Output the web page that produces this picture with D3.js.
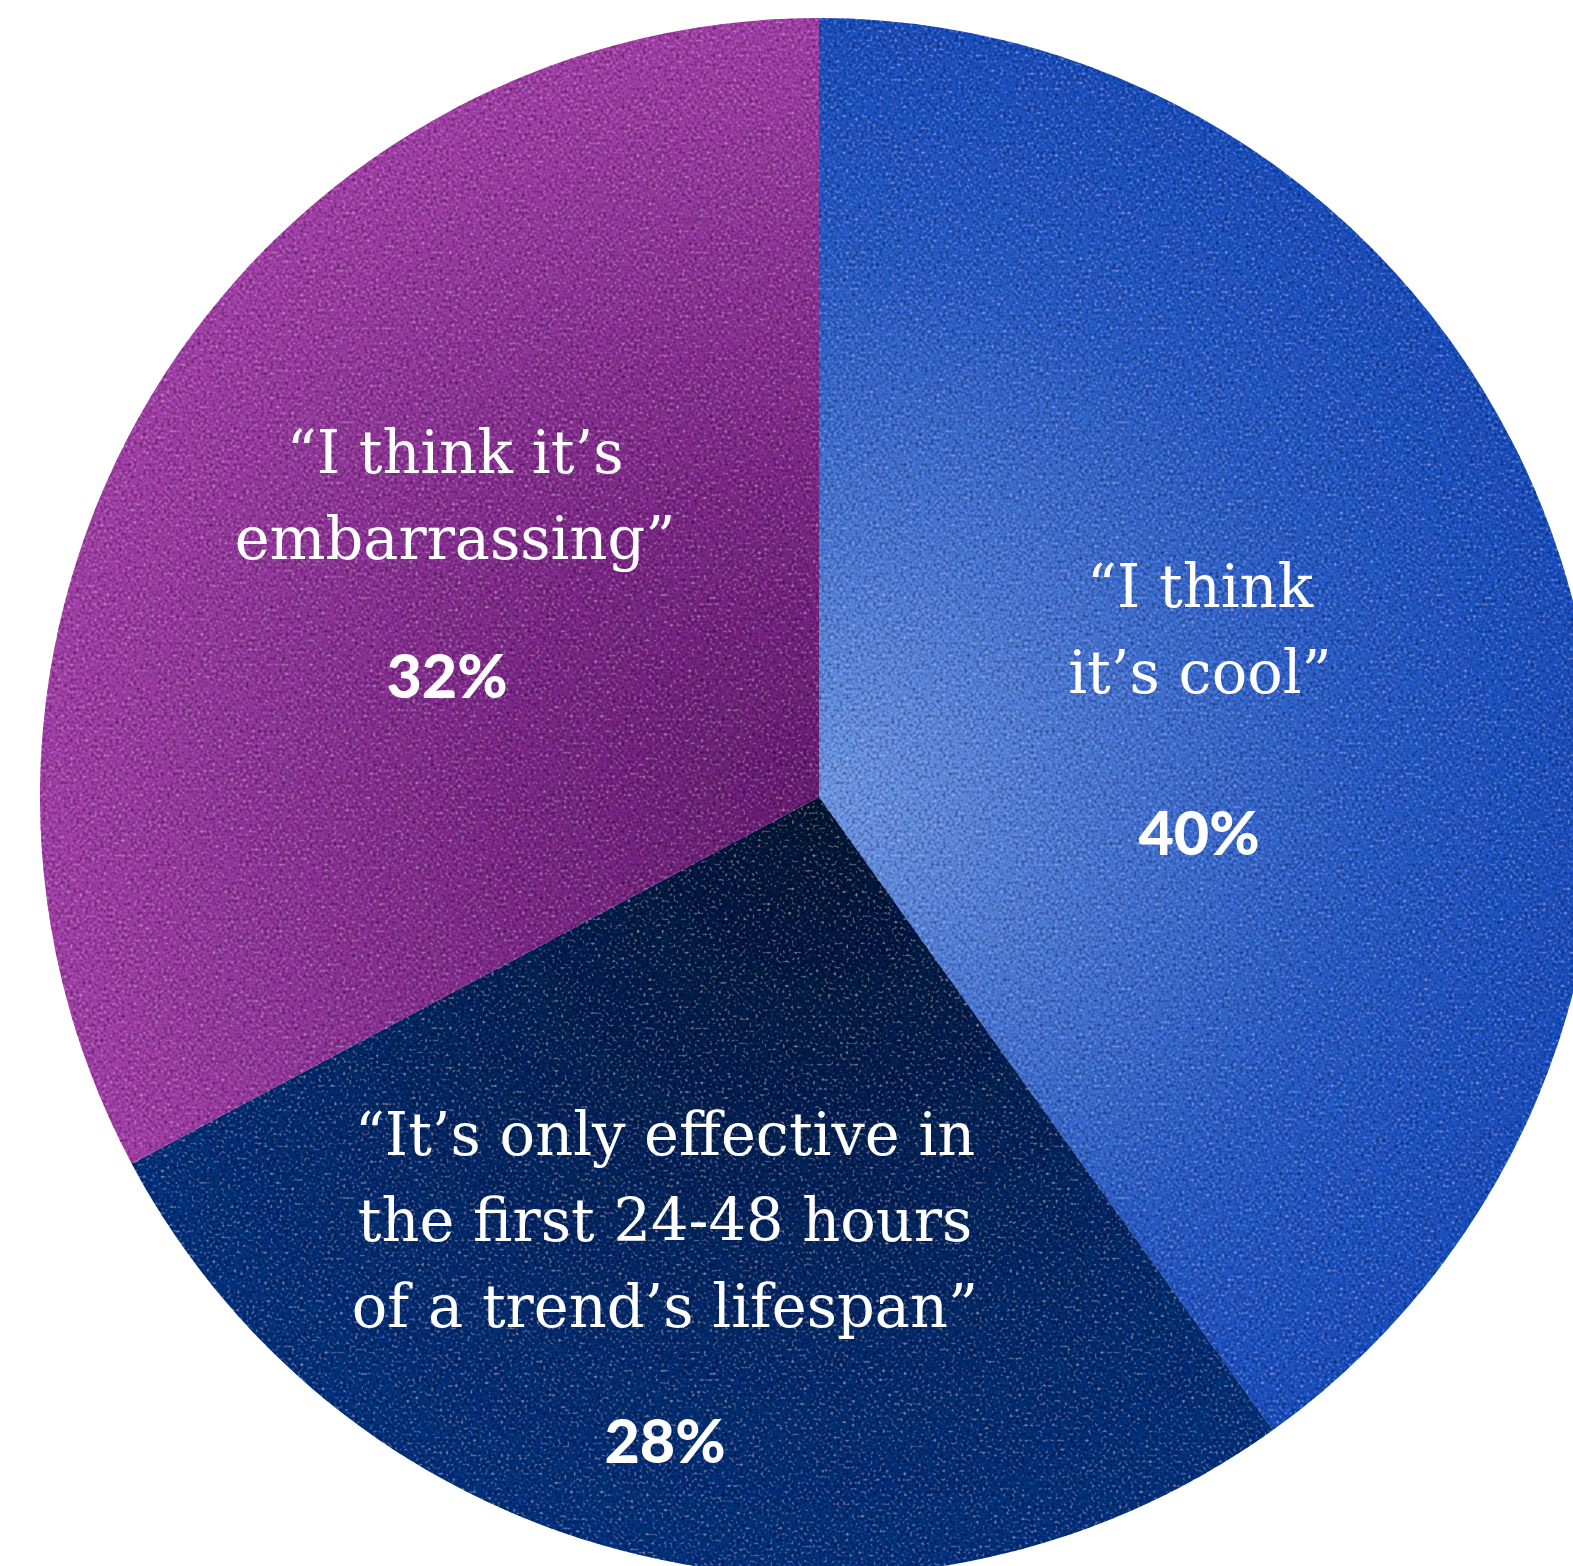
<!DOCTYPE html>
<html>
<head>
<meta charset="utf-8">
<script src="https://cdn.jsdelivr.net/npm/d3@7"></script>
<style>
  html, body { margin: 0; padding: 0; background: #ffffff; }
  svg { display: block; }
</style>
</head>
<body>
<div id="chart"></div>
<script>
// ---- data ----
const categories = ["cool", "effective", "embarrassing"];
const values = [40.1, 27.1, 32.8];            // slice sizes as drawn
const valueLabels = ["40%", "28%", "32%"];    // printed labels
const quoteLines = [
  ["\u201CI think", "it\u2019s cool\u201D"],
  ["\u201CIt\u2019s only effective in", "the first 24-48 hours", "of a trend\u2019s lifespan\u201D"],
  ["\u201CI think it\u2019s", "embarrassing\u201D"]
];

// ---- layout / style ----
const W = 1573, H = 1566;
const cx = 819, cy = 797, R = 779;
const gradStops = [
  [["0", "#729be9"], ["0.35", "#4d7bd9"], ["0.7", "#2b5ecb"], ["1", "#1f51c2"]],
  [["0", "#0a1936"], ["0.4", "#0c2456"], ["0.75", "#0d2f72"], ["1", "#0e3682"]],
  [["0", "#6c2277"], ["0.4", "#802b8b"], ["0.75", "#963a9f"], ["1", "#a743ac"]]
];
const labelLayout = [
  { x: 1200, y: 607, pctX: 1199, pctY: 855 },
  { x: 665, y: 1155, pctX: 665, pctY: 1463 },
  { x: 455, y: 473, pctX: 447, pctY: 698 }
];
const lineGap = 86;

const svg = d3.select("#chart").append("svg")
  .attr("width", W).attr("height", H)
  .attr("viewBox", `0 0 ${W} ${H}`);

svg.append("rect").attr("width", W).attr("height", H).attr("fill", "#ffffff");

const defs = svg.append("defs");
gradStops.forEach((stops, i) => {
  const g = defs.append("radialGradient")
    .attr("id", "grad" + i)
    .attr("gradientUnits", "userSpaceOnUse")
    .attr("cx", 0).attr("cy", 0).attr("r", R);
  stops.forEach(s => g.append("stop").attr("offset", s[0]).attr("stop-color", s[1]));
});

const grain = defs.append("filter").attr("id", "grain")
  .attr("filterUnits", "userSpaceOnUse")
  .attr("x", -R - 5).attr("y", -R - 5).attr("width", 2 * R + 10).attr("height", 2 * R + 10);
grain.append("feTurbulence").attr("type", "fractalNoise")
  .attr("baseFrequency", 0.33).attr("numOctaves", 1).attr("seed", 7).attr("result", "n");
grain.append("feColorMatrix").attr("in", "n").attr("type", "matrix")
  .attr("values", "0 0 0 0 0  0 0 0 0 0  0 0 0 0 0  1.9 0 0 0 -0.85").attr("result", "a");
grain.append("feComposite").attr("in", "a").attr("in2", "SourceGraphic")
  .attr("operator", "in").attr("result", "g");
grain.append("feColorMatrix").attr("in", "n").attr("type", "matrix")
  .attr("values", "0 0 0 0 1  0 0 0 0 1  0 0 0 0 1  -1.0 0 0 0 0.38").attr("result", "b");
grain.append("feComposite").attr("in", "b").attr("in2", "SourceGraphic")
  .attr("operator", "in").attr("result", "h");
const merge = grain.append("feMerge");
merge.append("feMergeNode").attr("in", "SourceGraphic");
merge.append("feMergeNode").attr("in", "g");
merge.append("feMergeNode").attr("in", "h");

const pie = d3.pie().sort(null).value(d => d)
  .startAngle(0).endAngle(2 * Math.PI);
const arc = d3.arc().innerRadius(0).outerRadius(R);
const arcs = pie(values);

const g = svg.append("g").attr("transform", `translate(${cx},${cy})`);
g.selectAll("path.slice").data(arcs).enter().append("path")
  .attr("class", "slice")
  .attr("d", arc)
  .attr("fill", (d, i) => "url(#grad" + i + ")")
  .attr("filter", "url(#grain)");

// labels
const serif = "'DejaVu Serif', 'Liberation Serif', serif";
const sans = "Lato, 'Open Sans', 'Noto Sans', sans-serif";

arcs.forEach((a, i) => {
  const L = labelLayout[i];
  quoteLines[i].forEach((line, j) => {
    svg.append("text")
      .attr("x", L.x).attr("y", L.y + j * lineGap)
      .attr("text-anchor", "middle")
      .attr("fill", "#ffffff")
      .attr("font-family", serif)
      .attr("font-size", 59)
      .text(line);
  });
  svg.append("text")
    .attr("x", L.pctX).attr("y", L.pctY)
    .attr("text-anchor", "middle")
    .attr("fill", "#ffffff")
    .attr("font-family", sans)
    .attr("font-weight", 900)
    .attr("font-size", 61)
    .text(valueLabels[i]);
});
</script>
</body>
</html>
